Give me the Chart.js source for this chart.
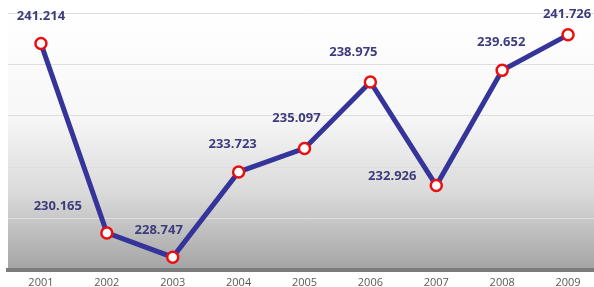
<!DOCTYPE html>
<html>
<head>
<meta charset="utf-8">
<script src="https://cdn.jsdelivr.net/npm/chart.js@4/dist/chart.umd.min.js"></script>
<style>
  html, body { margin: 0; padding: 0; background: #ffffff; overflow: hidden; }
  canvas { display: block; }
</style>
</head>
<body>
<canvas id="c" width="609" height="287"></canvas>
<script>
const years = ['2001', '2002', '2003', '2004', '2005', '2006', '2007', '2008', '2009'];
const values = [241.214, 230.165, 228.747, 233.723, 235.097, 238.975, 232.926, 239.652, 241.726];
const valueLabels = ['241.214', '230.165', '228.747', '233.723', '235.097', '238.975', '232.926', '239.652', '241.726'];
const yMin = 228;
const yMax = 243;
const yStep = 3;

// label offsets relative to each point (style only)
const labelOffsets = [[0, -27], [-49, -27], [-14, -27], [-6, -28], [-8, -30], [-17, -30], [-44, -9], [-1, -28], [-1, -21]];

const bgPlugin = {
  id: 'bg',
  beforeDraw(chart) {
    const { ctx, chartArea: a } = chart;
    const g = ctx.createLinearGradient(0, a.top, 0, a.bottom);
    g.addColorStop(0, '#ffffff');
    g.addColorStop(0.4, '#f7f7f7');
    g.addColorStop(0.7, '#dadada');
    g.addColorStop(1, '#a4a4a4');
    ctx.save();
    ctx.fillStyle = g;
    ctx.fillRect(a.left, a.top, a.right - a.left, a.bottom - a.top);
    ctx.restore();
  }
};

const labelPlugin = {
  id: 'vlabels',
  afterDatasetsDraw(chart) {
    const { ctx } = chart;
    const meta = chart.getDatasetMeta(0);
    ctx.save();
    ctx.font = 'bold 13px "Open Sans"';
    ctx.fillStyle = '#3d3d7d';
    ctx.textAlign = 'center';
    ctx.textBaseline = 'middle';
    meta.data.forEach((pt, i) => {
      const o = labelOffsets[i];
      ctx.fillText(valueLabels[i], pt.x + o[0], pt.y + o[1]);
    });
    ctx.restore();
  }
};

new Chart(document.getElementById('c'), {
  type: 'line',
  data: {
    labels: years,
    datasets: [{
      data: values,
      borderColor: '#34349a',
      borderWidth: 5,
      pointRadius: 5.5,
      pointBorderWidth: 2.5,
      pointBackgroundColor: '#ffffff',
      pointBorderColor: '#e81010',
      tension: 0,
      clip: false
    }]
  },
  options: {
    responsive: false,
    animation: false,
    devicePixelRatio: 1,
    layout: { padding: { left: 7, top: 13, right: 0, bottom: 0 } },
    plugins: { legend: { display: false }, tooltip: { enabled: false } },
    scales: {
      x: {
        offset: true,
        grid: { display: true, drawOnChartArea: false, drawTicks: true, tickLength: 2, color: '#808080', lineWidth: 2 },
        border: { display: true, color: '#7c7c7c', width: 4 },
        ticks: { color: '#595959', font: { family: '"Open Sans"', size: 11 }, padding: 4, maxRotation: 0 },
        afterFit(scale) { scale.height = 17; }
      },
      y: {
        min: yMin,
        max: yMax,
        ticks: { display: false, stepSize: yStep },
        grid: { color: '#dedede', lineWidth: 1, drawTicks: false },
        border: { display: false },
        afterFit(scale) { scale.width = 0; }
      }
    }
  },
  plugins: [bgPlugin, labelPlugin]
});
</script>
</body>
</html>
